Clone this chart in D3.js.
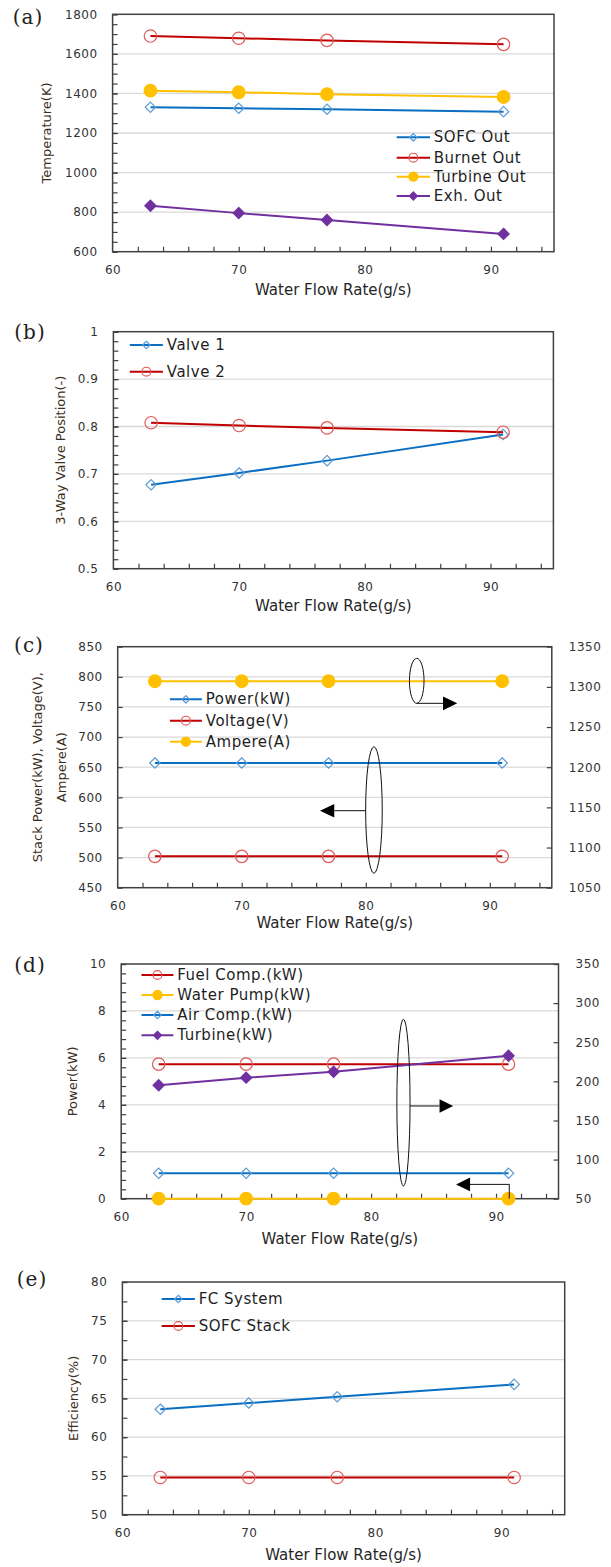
<!DOCTYPE html>
<html>
<head>
<meta charset="utf-8">
<script src="https://cdn.jsdelivr.net/npm/d3@7"></script>
<style>
  body { margin: 0; background: #fff; }
  svg { display: block; }
  text { font-family: "DejaVu Sans", sans-serif; }
</style>
</head>
<body>
<div id="cntr"></div>
<script>
// x values shared by every panel
const flowRate = [63, 70, 77, 91];
const flowTicks = [60, 70, 80, 90];

// (a) temperatures (K)
const sofcOut    = [1330, 1325, 1320, 1308];
const burnetOut  = [1690, 1679, 1668, 1648];
const turbineOut = [1414, 1406, 1396, 1382];
const exhOut     = [832, 795, 760, 690];
const tempTicks  = [600, 800, 1000, 1200, 1400, 1600, 1800];

// (b) 3-way valve positions
const valve1 = [0.677, 0.702, 0.728, 0.783];
const valve2 = [0.808, 0.802, 0.797, 0.788];
const valveTicks = [0.5, 0.6, 0.7, 0.8, 0.9, 1];

// (c) stack power / voltage (left), current (right)
const stackPower   = [657, 657, 657, 657];
const stackVoltage = [502, 502, 502, 502];
const stackAmpere  = [1307, 1307, 1307, 1307];
const stackTicks   = [450, 500, 550, 600, 650, 700, 750, 800, 850];
const ampereTicks  = [1050, 1100, 1150, 1200, 1250, 1300, 1350];

// (d) power of components: water pump on left axis, the rest on right axis
const fuelComp     = [222, 222, 222, 222];
const waterPump    = [0, 0, 0, 0];
const airComp      = [82.5, 82.5, 82.5, 82.5];
const turbinePower = [195, 204.7, 212.3, 232.8];
const powerTicks      = [0, 2, 4, 6, 8, 10];
const powerRightTicks = [50, 100, 150, 200, 250, 300, 350];

// (e) efficiencies (%)
const fcSystem  = [63.6, 64.4, 65.2, 66.8];
const sofcStack = [54.8, 54.8, 54.8, 54.8];
const effTicks  = [50, 55, 60, 65, 70, 75, 80];

const W = 611, H = 1567;

const svg = d3.select("#cntr")
    .append("svg")
    .attr("width", W)
    .attr("height", H);

const styles = {
    blueDiamond:   { line: "#0a6fc2", marker: "diamond", stroke: "#5b9bd5", fill: "none", size: 5.2 },
    redCircle:     { line: "#c00000", marker: "circle",  stroke: "#e05a5a", fill: "none", size: 6.2 },
    goldDot:       { line: "#ffc000", marker: "circle",  stroke: "#ffc000", fill: "#ffc000", size: 6.3 },
    purpleDiamond: { line: "#7030a0", marker: "diamond", stroke: "#7030a0", fill: "#7030a0", size: 5.6 }
};

const panels = [
    {
        label: "(a)", labelPos: [28, 17],
        left: 112.6, right: 554, top: 14.3, bottom: 251.7,
        yDomain: [600, 1800], yTicks: tempTicks, yMinor: 50,
        yTitle: ["Temperature(K)"], yTitleX: [46.8], xTitleDy: 38.3,
        series: [
            { name: "SOFC Out", values: sofcOut, style: "blueDiamond" },
            { name: "Burnet Out", values: burnetOut, style: "redCircle" },
            { name: "Turbine Out", values: turbineOut, style: "goldDot" },
            { name: "Exh. Out", values: exhOut, style: "purpleDiamond" }
        ],
        legend: { x1: 396.7, x2: 430, tx: 433.8, ys: [137.3, 157.7, 176.7, 196] }
    },
    {
        label: "(b)", labelPos: [30, 331.7],
        left: 113.4, right: 553.4, top: 331.7, bottom: 568.7,
        yDomain: [0.5, 1], yTicks: valveTicks, yMinor: 0.02,
        yTitle: ["3-Way Valve Position(-)"], yTitleX: [60.4], xTitleDy: 37.3,
        series: [
            { name: "Valve 1", values: valve1, style: "blueDiamond" },
            { name: "Valve 2", values: valve2, style: "redCircle" }
        ],
        legend: { x1: 129.8, x2: 162.9, tx: 166.8, ys: [345, 371.7] }
    },
    {
        label: "(c)", labelPos: [29, 645],
        left: 117.7, right: 551.8, top: 646.7, bottom: 887.7,
        yDomain: [450, 850], yTicks: stackTicks, yMinor: null,
        y2Domain: [1050, 1350], y2Ticks: ampereTicks,
        yTitle: ["Stack Power(kW),  Voltage(V),", "Ampere(A)"], yTitleX: [37, 61.5], xTitleDy: 35,
        series: [
            { name: "Power(kW)", values: stackPower, style: "blueDiamond" },
            { name: "Voltage(V)", values: stackVoltage, style: "redCircle" },
            { name: "Ampere(A)", values: stackAmpere, style: "goldDot", axis: 2 }
        ],
        legend: { x1: 169.9, x2: 201.9, tx: 205.8, ys: [699.3, 720.7, 741.7] },
        // ellipses in data units (left axis), width in px
        ellipses: [
            { cx: 84.11, y0: 756, y1: 830.7, rx: 7.3, arrow: { from: "bottom", dir: 1, y: 756, end: 86.23, tip: 87.38 } },
            { cx: 80.66, y0: 473.9, y1: 684, rx: 8.3, arrow: { from: "left", dir: -1, y: 577.8, end: 77.46, tip: 76.31 } }
        ]
    },
    {
        label: "(d)", labelPos: [30, 965],
        left: 121.2, right: 558.5, top: 964, bottom: 1198.7,
        yDomain: [0, 10], yTicks: powerTicks, yMinor: 0.4,
        y2Domain: [50, 350], y2Ticks: powerRightTicks,
        yTitle: ["Power(kW)"], yTitleX: [72], xTitleDy: 40,
        series: [
            { name: "Fuel Comp.(kW)", values: fuelComp, style: "redCircle", axis: 2 },
            { name: "Water Pump(kW)", values: waterPump, style: "goldDot" },
            { name: "Air Comp.(kW)", values: airComp, style: "blueDiamond", axis: 2 },
            { name: "Turbine(kW)", values: turbinePower, style: "purpleDiamond", axis: 2 }
        ],
        legend: { x1: 141.5, x2: 173.4, tx: 177.3, ys: [975, 995, 1015, 1035.3] },
        ellipses: [
            { cx: 82.59, y0: 0.54, y1: 7.64, rx: 6.6, arrow: { from: "right", dir: 1, y: 3.95, end: 85.48, tip: 86.57 } }
        ],
        elbow: { x: 91.06, y0: 0, y1: 0.61, end: 87.92, tip: 86.8 }
    },
    {
        label: "(e)", labelPos: [32, 1279],
        left: 122.4, right: 564.7, top: 1282, bottom: 1514.7,
        yDomain: [50, 80], yTicks: effTicks, yMinor: 2.5,
        yTitle: ["Efficiency(%)"], yTitleX: [73], xTitleDy: 40.3,
        series: [
            { name: "FC System", values: fcSystem, style: "blueDiamond" },
            { name: "SOFC Stack", values: sofcStack, style: "redCircle" }
        ],
        legend: { x1: 161.7, x2: 194.9, tx: 198.7, ys: [1299, 1326] }
    }
];

function drawMarker(sel, st, cx, cy, k) {
    if (st.marker === "circle") {
        sel.append("circle")
            .attr("cx", cx).attr("cy", cy).attr("r", st.size * k)
            .attr("fill", st.fill).attr("stroke", st.stroke).attr("stroke-width", 1.2);
    } else {
        const h = st.size * k;
        sel.append("path")
            .attr("d", `M${cx},${cy - h}L${cx + h},${cy}L${cx},${cy + h}L${cx - h},${cy}Z`)
            .attr("fill", st.fill).attr("stroke", st.stroke).attr("stroke-width", 1.2);
    }
}

function minorValues(domain, step) {
    const n = Math.round((domain[1] - domain[0]) / step);
    return d3.range(n + 1).map(i => +(domain[0] + i * step).toFixed(6));
}

function drawPanel(p) {
    const g = svg.append("g");
    const x = d3.scaleLinear().domain([60, 95]).range([p.left, p.right]);
    const y = d3.scaleLinear().domain(p.yDomain).range([p.bottom, p.top]);
    const y2 = p.y2Domain ? d3.scaleLinear().domain(p.y2Domain).range([p.bottom, p.top]) : null;

    // gridlines
    g.append("g")
        .selectAll("line")
        .data(p.yTicks.slice(1, -1))
        .join("line")
            .attr("x1", p.left).attr("x2", p.right)
            .attr("y1", d => y(d)).attr("y2", d => y(d))
            .attr("stroke", "#d9d9d9").attr("stroke-width", 1.3);

    // left axis
    const left = g.append("g").attr("transform", `translate(${p.left},0)`);
    if (p.yMinor) {
        left.append("g").call(d3.axisLeft(y).tickValues(minorValues(p.yDomain, p.yMinor)).tickSize(-5).tickFormat(""));
    }
    left.append("g").call(d3.axisLeft(y).tickValues(p.yTicks).tickSize(-5).tickPadding(15).tickFormat(d => String(d)));

    // right axis
    if (y2) {
        g.append("g").attr("transform", `translate(${p.right},0)`)
            .call(d3.axisRight(y2).tickValues(p.y2Ticks).tickSize(-5).tickPadding(17).tickFormat(d => String(d)));
    }

    // bottom axis
    const bottom = g.append("g").attr("transform", `translate(0,${p.bottom})`);
    bottom.append("g").call(d3.axisBottom(x).tickValues(d3.range(62, 95, 2)).tickSize(-5).tickFormat(""));
    bottom.append("g").call(d3.axisBottom(x).tickValues(flowTicks).tickSize(0).tickPadding(14).tickFormat(d => String(d)));

    g.selectAll(".domain").remove();
    g.selectAll(".tick line").attr("stroke", "#404040").attr("stroke-width", 1.2);
    g.selectAll(".tick text")
        .attr("fill", "#333")
        .style("font-size", "12px")
        .style("letter-spacing", "0.5px");

    // frame
    g.append("rect")
        .attr("x", p.left).attr("y", p.top)
        .attr("width", p.right - p.left).attr("height", p.bottom - p.top)
        .attr("fill", "none").attr("stroke", "#404040").attr("stroke-width", 1.5);

    // titles
    g.append("text")
        .attr("x", (p.left + p.right) / 2)
        .attr("y", p.bottom + p.xTitleDy)
        .attr("text-anchor", "middle")
        .attr("dominant-baseline", "central")
        .attr("fill", "#262626")
        .style("font-size", "15px")
        .text("Water Flow Rate(g/s)");

    p.yTitle.forEach((t, i) => {
        g.append("text")
            .attr("transform", `translate(${p.yTitleX[i]},${(p.top + p.bottom) / 2}) rotate(-90)`)
            .attr("text-anchor", "middle")
            .attr("dominant-baseline", "central")
            .attr("fill", "#3a2e22")
            .style("font-size", "13px")
            .text(t);
    });

    g.append("text")
        .attr("x", p.labelPos[0]).attr("y", p.labelPos[1])
        .attr("text-anchor", "middle")
        .attr("dominant-baseline", "central")
        .attr("fill", "#222")
        .style("font-family", "'DejaVu Serif', serif")
        .style("font-size", "20px")
        .style("letter-spacing", "1px")
        .text(p.label);

    // series
    p.series.forEach(s => {
        const st = styles[s.style];
        const ys = s.axis === 2 ? y2 : y;
        const pts = flowRate.map((fx, i) => [x(fx), ys(s.values[i])]);
        g.append("path")
            .attr("d", d3.line()(pts))
            .attr("fill", "none")
            .attr("stroke", st.line)
            .attr("stroke-width", 2);
        const mk = g.append("g");
        pts.forEach(pt => drawMarker(mk, st, pt[0], pt[1], 1));
    });

    // legend
    const lg = g.append("g");
    p.series.forEach((s, i) => {
        const st = styles[s.style];
        const ly = p.legend.ys[i];
        lg.append("line")
            .attr("x1", p.legend.x1).attr("x2", p.legend.x2)
            .attr("y1", ly).attr("y2", ly)
            .attr("stroke", st.line).attr("stroke-width", 2);
        drawMarker(lg, st, (p.legend.x1 + p.legend.x2) / 2, ly, 0.72);
        lg.append("text")
            .attr("x", p.legend.tx).attr("y", ly)
            .attr("dominant-baseline", "central")
            .attr("fill", "#1e1e1e")
            .style("font-size", "15px")
            .style("letter-spacing", "0.5px")
            .text(s.name);
    });

    // annotations: ellipses with arrows
    (p.ellipses || []).forEach(e => {
        const cy = (y(e.y0) + y(e.y1)) / 2;
        const ry = Math.abs(y(e.y0) - y(e.y1)) / 2;
        const cx = x(e.cx);
        g.append("ellipse")
            .attr("cx", cx).attr("cy", cy).attr("rx", e.rx).attr("ry", ry)
            .attr("fill", "none").attr("stroke", "#111").attr("stroke-width", 1);
        const a = e.arrow;
        const ay = y(a.y);
        const sx = a.from === "bottom" ? cx : (a.from === "left" ? cx - e.rx : cx + e.rx);
        g.append("line")
            .attr("x1", sx).attr("x2", x(a.end))
            .attr("y1", ay).attr("y2", ay)
            .attr("stroke", "#111").attr("stroke-width", 1);
        g.append("path")
            .attr("d", `M${x(a.end)},${ay - 6.8}L${x(a.tip)},${ay}L${x(a.end)},${ay + 6.8}Z`)
            .attr("fill", "#000");
    });

    if (p.elbow) {
        const e = p.elbow;
        const ey = y(e.y1);
        g.append("path")
            .attr("d", `M${x(e.x)},${y(e.y0)}L${x(e.x)},${ey}L${x(e.end)},${ey}`)
            .attr("fill", "none").attr("stroke", "#111").attr("stroke-width", 1);
        g.append("path")
            .attr("d", `M${x(e.end)},${ey - 6.8}L${x(e.tip)},${ey}L${x(e.end)},${ey + 6.8}Z`)
            .attr("fill", "#000");
    }
}

panels.forEach(drawPanel);
</script>
</body>
</html>
